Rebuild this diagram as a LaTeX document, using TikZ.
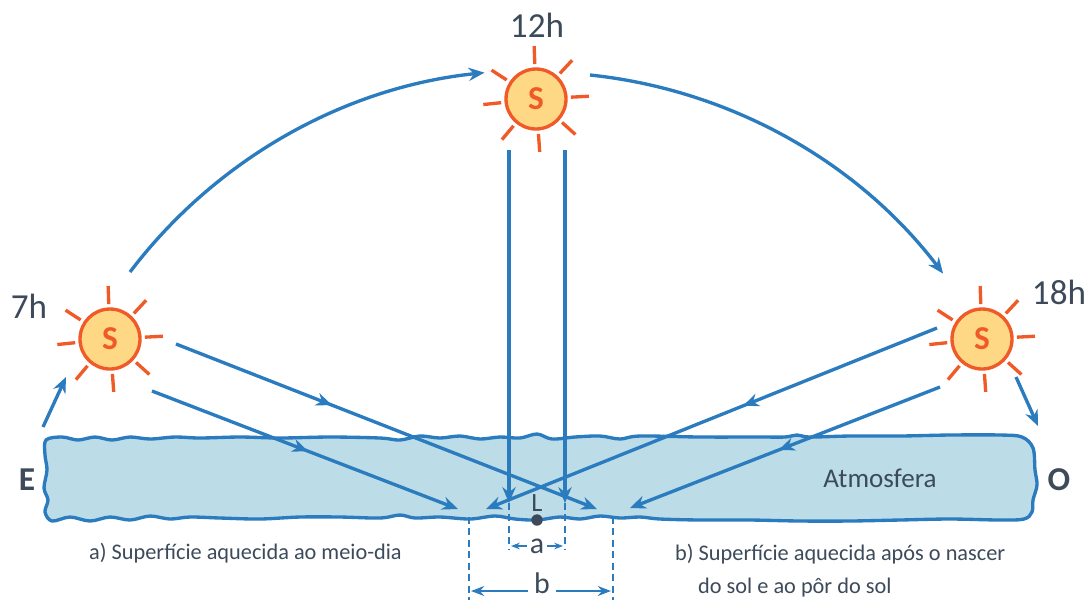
\documentclass[tikz,border=0pt]{standalone}
\usepackage{fontspec}
\setmainfont{Carlito}
\usetikzlibrary{arrows.meta,positioning,calc,decorations.markings}

\definecolor{skyblue}{HTML}{2B7BBF}
\definecolor{airfill}{HTML}{BCDCE8}
\definecolor{sunfill}{HTML}{FFD886}
\definecolor{sunline}{HTML}{F05A28}
\definecolor{inkgray}{HTML}{3C4A5A}

\begin{document}
\begin{tikzpicture}[x=0.02cm,y=0.02cm,
		beam/.style={draw=skyblue,line width=1.9pt,-{Stealth[length=9pt,width=7.5pt]}},
		midarrow/.style={postaction={decorate},decoration={markings,
			mark=at position #1 with {\arrow[skyblue]{Stealth[length=9pt,width=7.5pt]}}}},
		guide/.style={draw=skyblue,line width=1.6pt,dash pattern=on 4pt off 2.5pt},
		dim/.style={draw=skyblue,line width=1.6pt,-{Stealth[length=#1]}},
		dim/.default=7.5pt,
		sun/.style={circle,draw=sunline,fill=sunfill,line width=1.9pt,minimum size=1.2cm,
			inner sep=0pt,text=sunline,font=\fontsize{19}{19}\selectfont\bfseries},
		sunray/.style={draw=sunline,line width=1.9pt},
		txt/.style={text=inkgray,font=\fontsize{#1}{#1}\selectfont},
		caption/.style={text=inkgray,font=\fontsize{12.7}{15}\selectfont,anchor=west}]
		\useasboundingbox (0,0) rectangle (1087,-600);

		% atmosphere layer
		\draw[skyblue,fill=airfill,line width=1.9pt] plot[smooth cycle,tension=0.55] coordinates {
			(46,-440) (62,-437) (78,-440) (95,-437) (112,-440) (130,-437) (150,-439) (175,-437)
			(200,-438) (240,-437) (280,-438) (330,-437) (380,-438) (400,-440) (420,-436)
			(440,-438) (460,-436) (480,-439) (500,-437) (520,-438) (537,-434) (552,-439)
			(575,-437) (600,-436) (620,-439) (640,-436) (700,-437) (760,-437) (785,-437)
			(797,-435) (810,-437) (850,-436) (900,-436) (950,-435) (1000,-435) (1022,-437)
			(1033,-448) (1035,-470) (1037,-485) (1033,-500) (1032,-512) (1024,-519)
			(1000,-520) (950,-519) (900,-520) (850,-521) (800,-521) (750,-520) (700,-520)
			(660,-519) (640,-517) (620,-518) (600,-516) (580,-519) (560,-517) (537,-520)
			(515,-519) (495,-516) (470,-519) (440,-517) (415,-518) (400,-515) (380,-518)
			(340,-517) (300,-517) (260,-519) (220,-518) (190,-517) (170,-519) (150,-516)
			(130,-520) (110,-517) (90,-521) (70,-517) (52,-521) (45,-512) (48,-500)
			(44,-488) (47,-470) (45,-455)};
		\node[txt=15.4] (air) at (880,-478) {Atmosfera};
		\node[txt=19] (east) at (27,-480) {\bfseries E};
		\node[txt=19] (west) at (1059,-480) {\bfseries O};

		% the three suns
		\node[sun] (sun7) at (110,-339) {S};
		\node[sun] (sun12) at (536,-99) {S};
		\node[sun] (sun18) at (982,-339) {S};
		\foreach \s in {sun7,sun12,sun18}
			\foreach \a in {92,47,3,-42,-86,-130,186,147}
				\draw[sunray] ($(\s)+(\a:35)$) -- ($(\s)+(\a:53)$);
		\node[txt=20] (h7) at (29,-306) {7h};
		\node[txt=20] (h12) at (537,-25) {12h};
		\node[txt=20] (h18) at (1059,-292) {18h};

		% path of the sun
		\coordinate (arc7) at (130,-272);
		\coordinate (arc12) at (590,-75);
		\draw[beam] (arc7) arc[start angle=142.8, end angle=95.9, radius=511];
		\draw[beam] (arc12) arc[start angle=84, end angle=37.3, radius=511];
		\coordinate (rise0) at (43,-427);
		\coordinate (rise1) at (66,-377);
		\coordinate (set0) at (1016,-377);
		\coordinate (set1) at (1038,-426);
		\draw[beam] (rise0) -- (rise1);
		\draw[beam] (set0) -- (set1);

		% rays at 7h and 18h
		\coordinate (m1) at (176,-344);
		\coordinate (m1e) at (597,-509);
		\coordinate (m2) at (152,-391);
		\coordinate (m2e) at (458,-509);
		\coordinate (e1) at (937,-328);
		\coordinate (e1e) at (486,-509);
		\coordinate (e2) at (940,-387);
		\coordinate (e2e) at (630,-508);
		\draw[beam,midarrow=0.37] (m1) -- (m1e);
		\draw[beam,midarrow=0.51] (m2) -- (m2e);
		\draw[beam,midarrow=0.43] (e1) -- (e1e);
		\draw[beam,midarrow=0.52] (e2) -- (e2e);

		% rays at 12h
		\coordinate (n1) at (509,-150);
		\coordinate (n1e) at (509,-503);
		\coordinate (n2) at (565,-150);
		\coordinate (n2e) at (565,-503);
		\draw[beam] (n1) -- (n1e);
		\draw[beam] (n2) -- (n2e);

		% place L
		\node[circle,fill=inkgray,minimum size=6.5pt,inner sep=0pt] (spot) at (537,-520) {};
		\node[txt=15,inner sep=1pt,above=0pt of spot] (lab) {L};

		% widths a and b
		\coordinate (a1) at (509,-550);
		\coordinate (a2) at (565,-550);
		\draw[guide] (n1e) -- (a1);
		\draw[guide] (n2e) -- (a2);
		\node[txt=17,inner sep=1.6pt] (alab) at (537,-546) {a};
		\coordinate (aL) at (511,-546);
		\coordinate (aR) at (563,-546);
		\draw[dim=5pt] (alab) -- (aL);
		\draw[dim=5pt] (alab) -- (aR);

		\coordinate (b0) at (469,-517);
		\coordinate (b1) at (469,-600);
		\coordinate (b2) at (613,-517);
		\coordinate (b3) at (613,-600);
		\draw[guide] (b0) -- (b1);
		\draw[guide] (b2) -- (b3);
		\node[txt=17,inner xsep=3.5pt,inner ysep=0pt] (blab) at (542,-583) {b};
		\coordinate (bL) at (471,-591);
		\coordinate (bR) at (611,-591);
		\draw[dim] (bL -| blab.west) -- (bL);
		\draw[dim] (bR -| blab.east) -- (bR);

		% captions
		\node[caption] (capa) at (83,-553) {a) Superfície aquecida ao meio-dia};
		\node[caption] (capb) at (669,-554) {b) Superfície aquecida após o nascer};
		\node[caption] (capb2) at (692,-588) {do sol e ao pôr do sol};
	\end{tikzpicture}
\end{document}
